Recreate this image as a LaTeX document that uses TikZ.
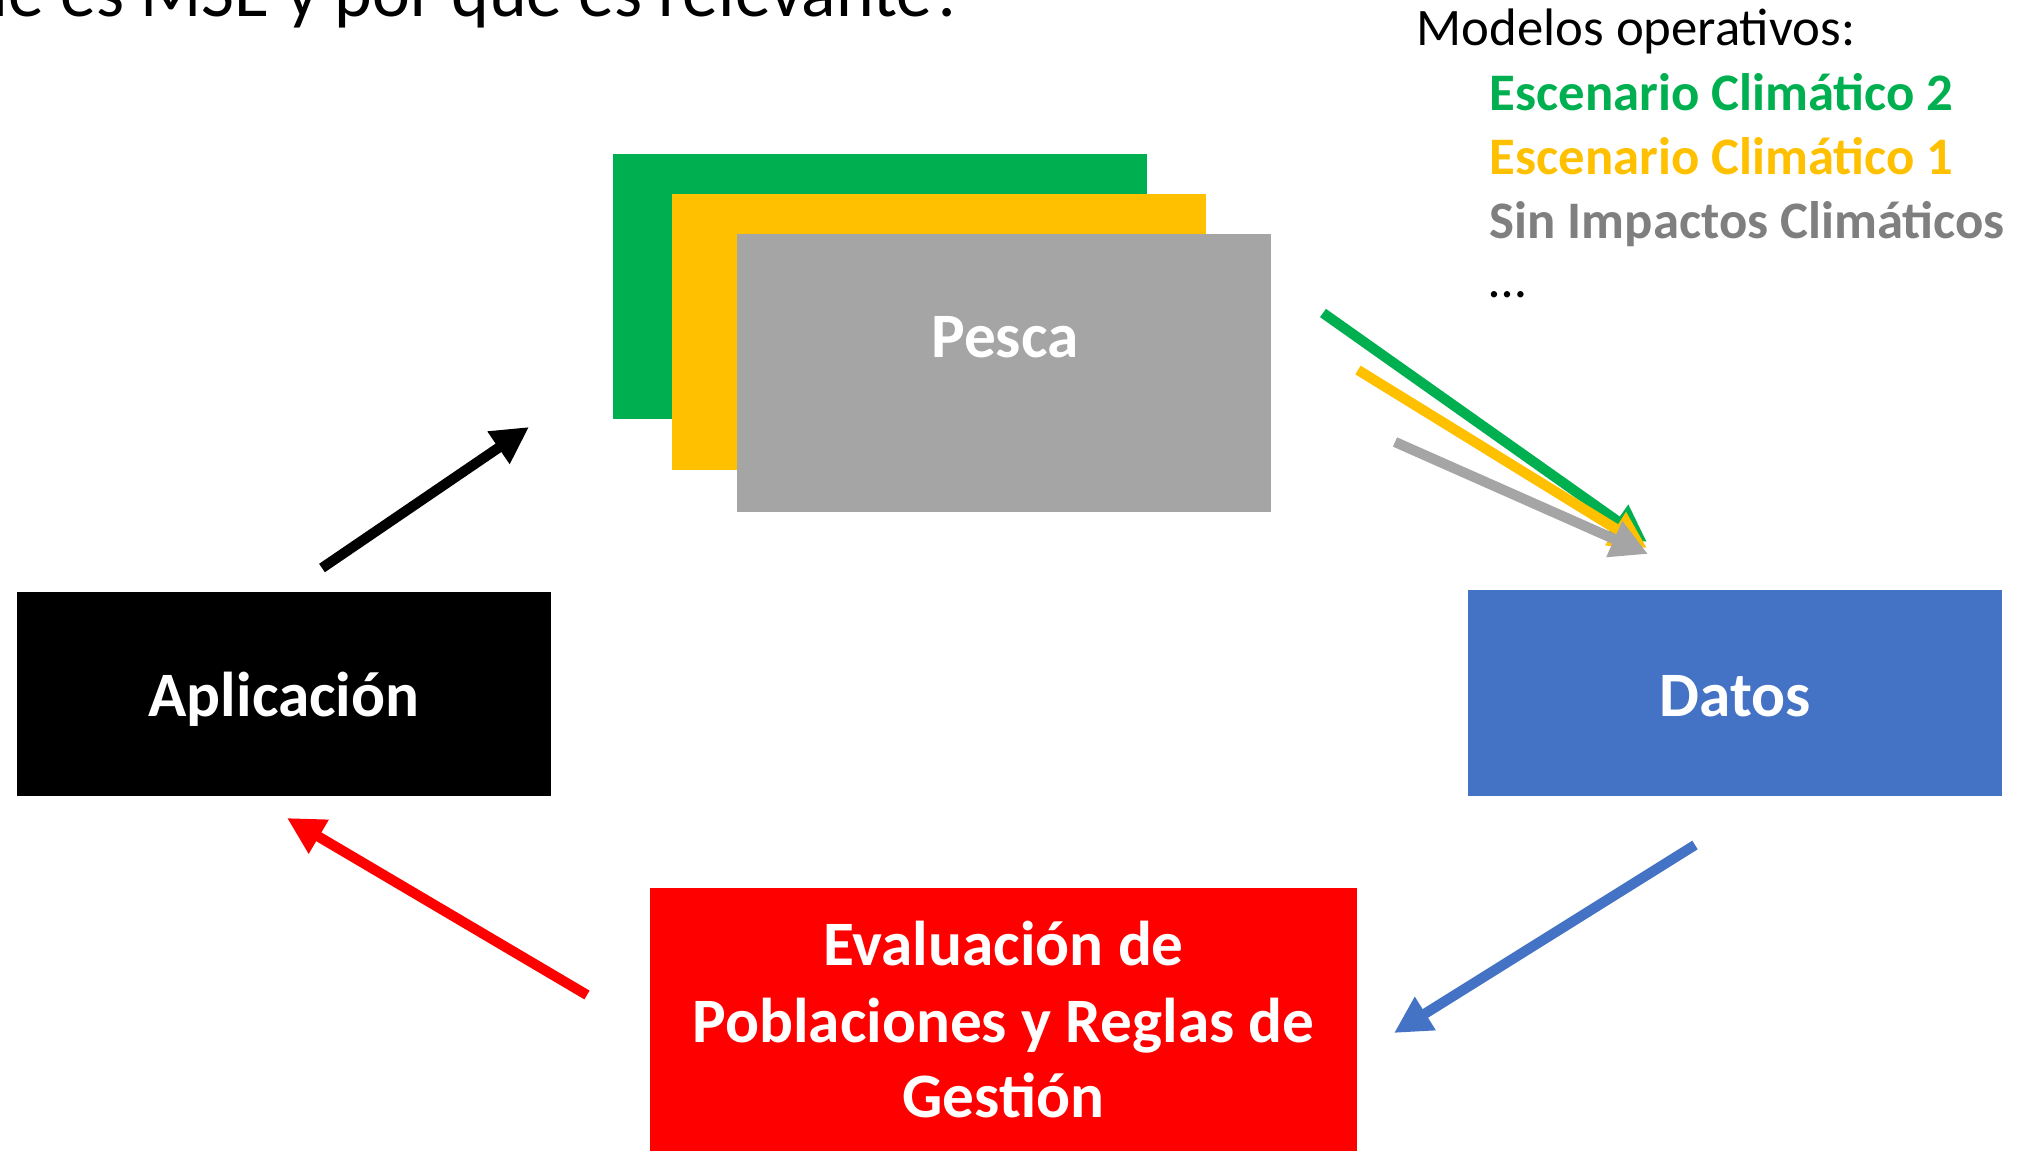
\documentclass[tikz,border=0pt]{standalone}
\usepackage{fontspec}
\setmainfont{Carlito}
\usetikzlibrary{arrows.meta}
\definecolor{cgreen}{HTML}{00B050}
\definecolor{cyellow}{HTML}{FFC000}
\definecolor{cgray}{HTML}{A5A5A5}
\definecolor{cgraytext}{HTML}{7F7F7F}
\definecolor{cblue}{HTML}{4472C4}
\definecolor{cred}{HTML}{FF0000}
\tikzset{
  panel/.style={inner sep=0, minimum width=5.34cm, outer sep=0},
  boxtext/.style={inner sep=0, anchor=base, text=white, font=\bfseries\fontsize{18}{21.9}\selectfont},
  sidetext/.style={inner sep=0, anchor=base west, font=\fontsize{15}{18}\selectfont},
  sidebold/.style={sidetext, font=\bfseries\fontsize{15}{18}\selectfont},
  bigarrow/.style={line width=2.9pt, -{Triangle[length=10.5pt,width=10.5pt]}}
}
\begin{document}
\begin{tikzpicture}[x=0.01cm,y=-0.01cm]
\useasboundingbox (0,0) rectangle (2023,1151);
\clip (0,0) rectangle (2023,1151);
\fill[white] (0,0) rectangle (2023,1151);

% title (partly cut off, as in the reference)
\node[inner sep=0, anchor=base east, font=\fontsize{20.4}{24}\selectfont] (title) at (966,16) {¿Qué es MSE y por qué es relevante?};

% Pesca stack
\node[panel, fill=cgreen, minimum height=2.65cm] (pgreen) at (880,286.5) {};
\node[panel, fill=cyellow, minimum height=2.76cm] (pyellow) at (939,332) {};
\node[panel, fill=cgray, minimum height=2.78cm] (pgray) at (1004,373) {};
\node[boxtext] (pescat) at (1005,357) {Pesca};

% Aplicacion
\node[panel, fill=black, minimum height=2.04cm] (apl) at (284,694) {};
\node[boxtext] (aplt) at (284,716) {Aplicación};

% Datos
\node[panel, fill=cblue, minimum height=2.06cm] (dat) at (1735,693) {};
\node[boxtext] (datt) at (1735,716) {Datos};

% Evaluacion
\node[inner sep=0, fill=cred, minimum width=7.07cm, minimum height=2.92cm] (eva) at (1003.5,1034) {};
\node[boxtext] (eva1) at (1003.5,965) {Evaluación de};
\node[boxtext] (eva2) at (1003.5,1042) {Poblaciones y Reglas de};
\node[boxtext] (eva3) at (1003.5,1117) {Gestión};

% side text
\node[sidetext] (mod) at (1416,45) {Modelos operativos:};
\node[sidebold, text=cgreen] (esc2) at (1489,110) {Escenario Climático 2};
\node[sidebold, text=cyellow] (esc1) at (1489,174) {Escenario Climático 1};
\node[sidebold, text=cgraytext] (sin) at (1489,238) {Sin Impactos Climáticos};
\node[sidetext] (dots) at (1489,297) {…};

% arrow end points
\coordinate (ka) at (322,568);  \coordinate (kb) at (529,427);
\coordinate (ba) at (1695,845); \coordinate (bb) at (1394,1033);
\coordinate (ra) at (587,995);  \coordinate (rb) at (287,818);
\coordinate (ga) at (1323,313); \coordinate (gb) at (1647,542);
\coordinate (ya) at (1358,370); \coordinate (yb) at (1647,548);
\coordinate (sa) at (1395,442); \coordinate (sb) at (1648,554);

\draw[bigarrow, draw=black, fill=black] (ka) -- (kb);
\draw[bigarrow, draw=cblue, fill=cblue] (ba) -- (bb);
\draw[bigarrow, draw=cred, fill=cred] (ra) -- (rb);
\draw[bigarrow, draw=cgreen, fill=cgreen] (ga) -- (gb);
\draw[bigarrow, draw=cyellow, fill=cyellow] (ya) -- (yb);
\draw[bigarrow, draw=cgray, fill=cgray] (sa) -- (sb);
\end{tikzpicture}
\end{document}
